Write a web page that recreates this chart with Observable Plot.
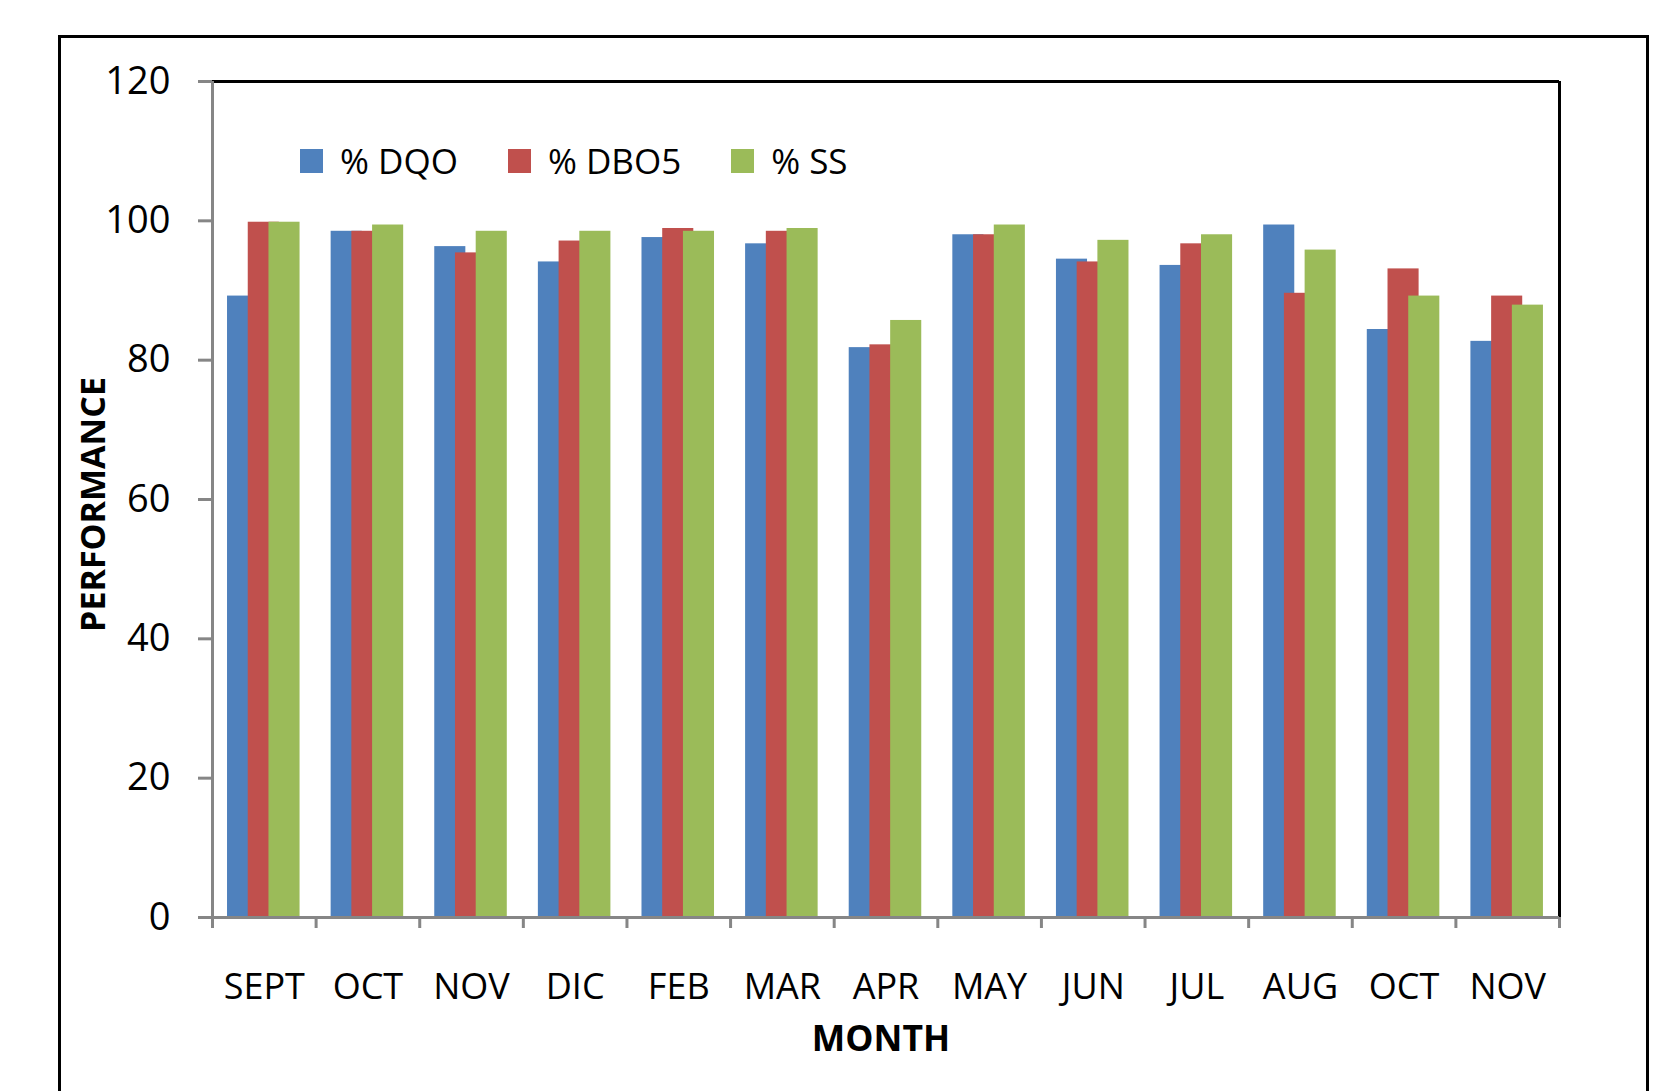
<!DOCTYPE html>
<html>
<head>
<meta charset="utf-8">
<script src="https://cdn.jsdelivr.net/npm/d3@7"></script>
<script src="https://cdn.jsdelivr.net/npm/@observablehq/plot@0.6"></script>
<style>
  html, body { margin: 0; padding: 0; background: #fff; overflow: hidden; }
  #wrap { position: relative; width: 1670px; height: 1091px; font-family: "Open Sans", sans-serif; }
  #outer { position: absolute; left: 58px; top: 35px; width: 1591px; height: 1200px; border: 3px solid #000; box-sizing: border-box; }
  #chart { position: absolute; left: 0; top: 0; }
  #legend { position: absolute; left: 300px; top: 137px; display: flex; align-items: center; font-size: 35px; color: #000; }
  .item { display: flex; align-items: center; margin-right: 50px; }
  .sw { width: 23px; height: 24px; margin-right: 17px; }
</style>
</head>
<body>
<div id="wrap">
  <div id="outer"></div>
  <div id="chart"></div>
  <div id="legend"></div>
</div>
<script>
const months = ["SEPT","OCT","NOV","DIC","FEB","MAR","APR","MAY","JUN","JUL","AUG","OCT","NOV"];
const seriesNames = ["% DQO", "% DBO5", "% SS"];
const seriesColors = ["#4F81BD", "#C0504D", "#9BBB59"];
const dqo  = [89.2, 98.5, 96.3, 94.1, 97.6, 96.7, 81.8, 98.0, 94.5, 93.6, 99.4, 84.4, 82.7];
const dbo5 = [99.8, 98.5, 95.4, 97.1, 98.9, 98.5, 82.2, 98.0, 94.1, 96.7, 89.6, 93.1, 89.2];
const ss   = [99.8, 99.4, 98.5, 98.5, 98.5, 98.9, 85.7, 99.4, 97.2, 98.0, 95.8, 89.2, 87.9];
const yTicks = [0, 20, 40, 60, 80, 100, 120];

// layout of bars within each month slot (fractions of one slot)
const barWidth = 0.30;
const barStart = [0.145, 0.345, 0.545];

const seriesValues = [dqo, dbo5, ss];
const rows = [];
seriesValues.forEach((vals, s) => {
  vals.forEach((v, i) => {
    rows.push({ i, month: months[i], series: seriesNames[s], value: v,
                x1: i + barStart[s], x2: i + barStart[s] + barWidth });
  });
});

const chart = Plot.plot({
  width: 1670,
  height: 1091,
  marginLeft: 212,
  marginRight: 111,
  marginTop: 81,
  marginBottom: 174,
  style: { fontFamily: "Open Sans", background: "transparent", overflow: "visible" },
  x: { domain: [0, months.length], axis: null },
  y: { domain: [0, 120], axis: null },
  color: { domain: seriesNames, range: seriesColors },
  marks: [
    Plot.rectY(rows, { x1: "x1", x2: "x2", y1: 0, y2: "value", fill: "series" }),
    Plot.ruleY([120], { stroke: "#000", strokeWidth: 3 }),
    Plot.ruleX([months.length], { stroke: "#000", strokeWidth: 3 }),
    // y axis ticks (gray) and labels
    Plot.axisY({ ticks: yTicks, tickSize: 14, tickFormat: () => "", stroke: "#868686", strokeWidth: 3, label: null }),
    Plot.axisY({ ticks: yTicks, tickSize: 0, tickPadding: 42, fontSize: 38, label: null }),
    // x axis ticks at slot boundaries
    Plot.axisX({ ticks: d3.range(0, months.length + 1), tickSize: 11, tickFormat: () => "", stroke: "#868686", strokeWidth: 3, label: null }),
    // x labels at slot centers
    Plot.axisX({ ticks: months.map((m, i) => i + 0.5), tickFormat: d => months[Math.floor(d)], tickSize: 0, tickPadding: 56, fontSize: 36, label: null }),
    Plot.ruleX([0], { stroke: "#868686", strokeWidth: 3 }),
    Plot.ruleY([0], { stroke: "#868686", strokeWidth: 3, x1: 0, x2: months.length }),
    Plot.text(["PERFORMANCE"], { frameAnchor: "left", rotate: -90, dx: -108, dy: 5, lineAnchor: "bottom", textAnchor: "middle", fontSize: 34, fontWeight: "bold", fill: "#000" }),
    Plot.text(["MONTH"], { frameAnchor: "bottom", dy: 133, dx: -5, lineAnchor: "bottom", textAnchor: "middle", fontSize: 35.5, fontWeight: "bold", fill: "#000" })
  ]
});
document.getElementById("chart").appendChild(chart);

const legend = document.getElementById("legend");
seriesNames.forEach((name, s) => {
  const item = document.createElement("div");
  item.className = "item";
  const sw = document.createElement("div");
  sw.className = "sw";
  sw.style.background = seriesColors[s];
  const label = document.createElement("span");
  label.textContent = name;
  item.appendChild(sw);
  item.appendChild(label);
  legend.appendChild(item);
});
</script>
</body>
</html>
